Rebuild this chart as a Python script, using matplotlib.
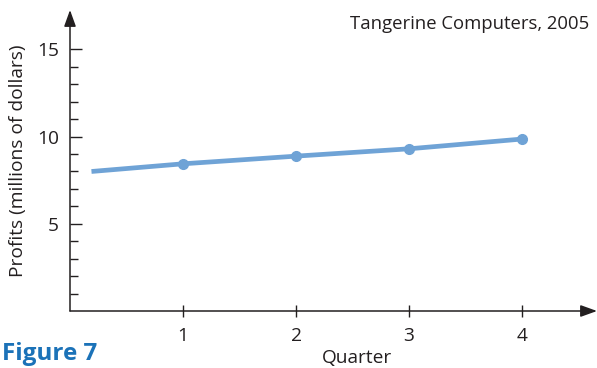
import matplotlib
matplotlib.use("Agg")
import matplotlib.pyplot as plt
from matplotlib.ticker import FixedLocator

plt.rcParams["font.family"] = ["Open Sans", "DejaVu Sans"]

# data
quarters = [0.19, 1, 2, 3, 4]
profits = [8.0, 8.44, 8.88, 9.30, 9.86]
x_ticks = [1, 2, 3, 4]
y_ticks = [5, 10, 15]
y_minor = [1, 2, 3, 4, 6, 7, 8, 9, 11, 12, 13, 14]

INK = "#231f20"
LINE = "#6fa3d6"
FIG_BLUE = "#1b72b8"
FS = 13.8

fig = plt.figure(figsize=(5.97, 3.68), dpi=100)
ax = fig.add_axes([70 / 597, 57 / 368, 527 / 597, 301 / 368])
ax.set_xlim(0, 527 / 113)
ax.set_ylim(0, 301 / 17.44)

for s in ax.spines.values():
    s.set_visible(False)

# axes with arrowheads
arrow = dict(arrowstyle="-|>,head_length=1.0,head_width=0.36", color=INK,
             lw=1.1, mutation_scale=10, shrinkA=0, shrinkB=0)
ax.annotate("", xy=(0, 1), xytext=(0, 0), xycoords="axes fraction",
            arrowprops=arrow, annotation_clip=False)
ax.annotate("", xy=(1, 0), xytext=(0, 0), xycoords="axes fraction",
            arrowprops=arrow, annotation_clip=False)

ax.plot(quarters, profits, color=LINE, lw=3.4, solid_capstyle="butt",
        marker="o", markersize=7, markevery=[1, 2, 3, 4], zorder=3)

ax.set_xticks(x_ticks)
ax.set_yticks(y_ticks)
ax.yaxis.set_minor_locator(FixedLocator(y_minor))
ax.tick_params(axis="y", which="major", direction="in", length=8.6, width=1.0,
               color=INK, labelcolor=INK, labelsize=FS, pad=8)
ax.tick_params(axis="y", which="minor", direction="in", length=5.6, width=1.0,
               color=INK)
ax.tick_params(axis="x", which="major", direction="inout", length=8.5, width=1.0,
               color=INK, labelcolor=INK, labelsize=FS, pad=7)

ax.set_ylabel("Profits (millions of dollars)", fontsize=FS, color=INK)
ax.yaxis.set_label_coords(-0.082, 0.5)
ax.set_xlabel("Quarter", fontsize=FS, color=INK)
ax.xaxis.set_label_coords(0.545, -0.125)

ax.text(0.985, 0.985, "Tangerine Computers, 2005", transform=ax.transAxes,
        ha="right", va="top", fontsize=13.3, color=INK)
fig.text(0.003, 0.037, "Figure 7", fontsize=17.5, fontweight="bold",
         color=FIG_BLUE, ha="left", va="center")

fig.savefig("out.png", dpi=100)
